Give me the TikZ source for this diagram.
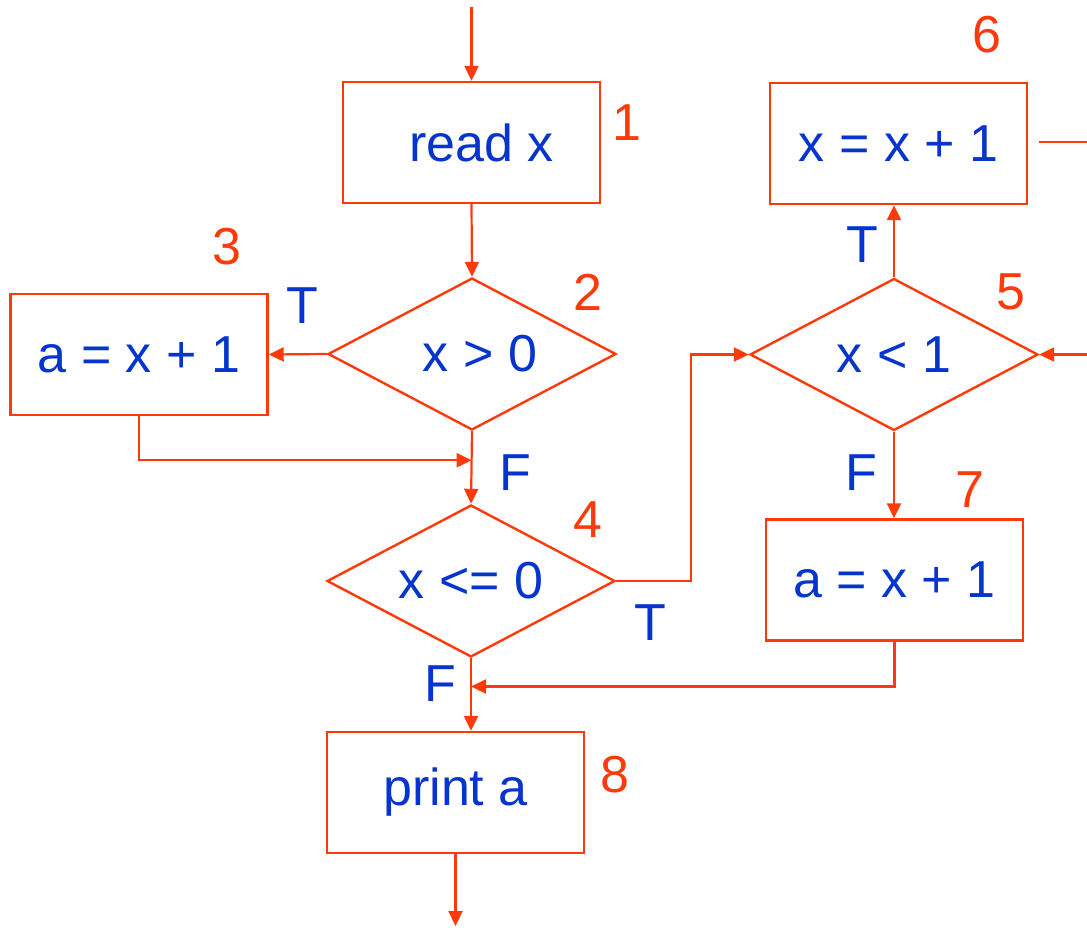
\documentclass[tikz,border=0pt]{standalone}
\usepackage{fontspec}
\setmainfont{Liberation Sans}
\usetikzlibrary{arrows.meta, calc, shapes.geometric}

\definecolor{flowred}{HTML}{FF3A0A}
\definecolor{codeblue}{HTML}{0535CC}

\begin{document}
\begin{tikzpicture}[
    x=1pt, y=-1pt, % work in pixels of the reference, y downwards
    every node/.style={font=\fontsize{52}{60}\selectfont},
    box/.style={draw=flowred, line width=2.4pt, minimum width=257pt, minimum height=121pt, inner sep=0pt, text=codeblue}, % Style for statements
    decision/.style={diamond, shape aspect=1.9, draw=flowred, line width=2.4pt, minimum width=288pt, minimum height=152pt, inner sep=0pt, text=codeblue}, % Style for tests
    num/.style={text=flowred, inner sep=0pt}, % Block numbers
    branch/.style={text=codeblue, inner sep=0pt}, % T / F labels
    flow/.style={draw=flowred, line width=2.2pt, -{Triangle[length=15pt, width=14pt]}}, % Style for edges
    plain/.style={draw=flowred, line width=2.2pt}
]
    \useasboundingbox (0,0) rectangle (1087,928);

    % Blocks
    \node[box] (read) at (471.5,142.5) {\hspace*{20pt}read x};
    \node[decision] (cond2) at (472,354) {\hspace*{16pt}x > 0};
    \node[box] (assign3) at (139,354.5) {a = x + 1};
    \node[decision] (cond4) at (471,581) {x <= 0};
    \node[decision] (cond5) at (894,354.5) {x < 1};
    \node[box] (incr6) at (898.5,143.5) {x = x + 1};
    \node[box] (assign7) at (894.5,580) {a = x + 1};
    \node[box] (print8) at (455.5,792.5) {print a};

    % Free ends
    \coordinate (entry) at (471.5,7);
    \coordinate (exit) at (455.5,926);
    \coordinate (back5) at (1087,354.5);
    \coordinate (loop6) at (1087,142);

    % Block numbers
    \node[num] at (627,123) {1};
    \node[num] at (588,292) {2};
    \node[num] at (226.5,246.5) {3};
    \node[num] at (588,520) {4};
    \node[num] at (1011,292) {5};
    \node[num] at (986.5,35) {6};
    \node[num] at (970,489.5) {7};
    \node[num] at (615,775) {8};

    % Branch labels
    \node[branch] at (302.5,306) {T};
    \node[branch] at (515,472.5) {F};
    \node[branch] at (650,623) {T};
    \node[branch] at (440,684) {F};
    \node[branch] at (862,245) {T};
    \node[branch] at (861.5,472.5) {F};

    % Edges
    \draw[flow] (entry) -- (read.north);
    \draw[flow] (read.south) -- (cond2.north);
    \draw[flow] (cond2.west) -- (assign3.east);
    \draw[flow] (cond2.south) -- (cond4.north);
    \draw[flow] (assign3.south) |- ($(cond2.south)!0.4!(cond4.north)$);
    \draw[flow] (cond4.east) -- ++(75,0) |- (cond5.west);
    \draw[flow] (cond4.south) -- (cond4.south |- print8.north);
    \draw[flow] (assign7.south) |- ($(cond4.south)!0.39!(cond4.south |- print8.north)$);
    \draw[flow] (cond5.north) -- (cond5.north |- incr6.south);
    \draw[flow] (cond5.south) -- (cond5.south |- assign7.north);
    \draw[flow] (back5) -- (cond5.east);
    \draw[plain] ([xshift=11pt]incr6.east |- loop6) -- (loop6);
    \draw[flow] (print8.south) -- (exit);

\end{tikzpicture}
\end{document}
